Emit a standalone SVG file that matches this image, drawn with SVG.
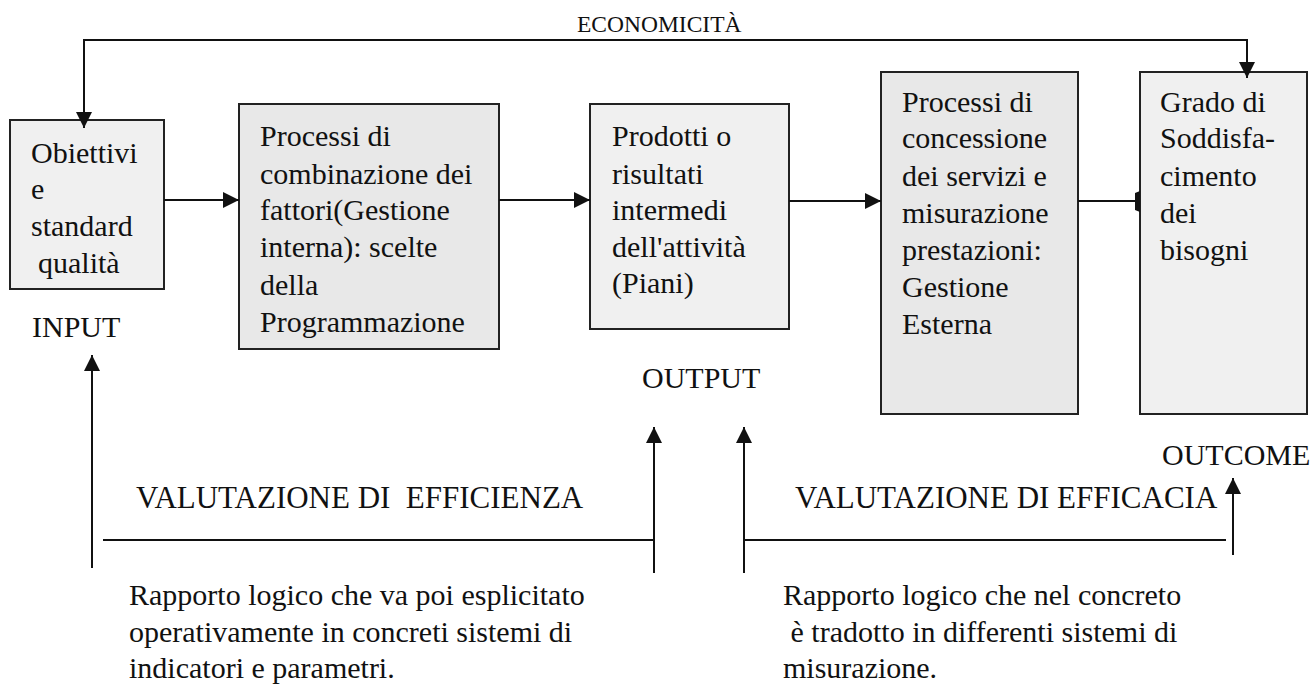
<svg xmlns="http://www.w3.org/2000/svg" width="1311" height="686" viewBox="0 0 1311 686">
<style>
text{font-family:"Liberation Serif","Times New Roman",serif;font-size:30px;fill:#111;white-space:pre}
.box{stroke:#222;stroke-width:2}
.l{fill:#f0f0f0}.d{fill:#e8e8e8}
.c{fill:none;stroke:#111;stroke-width:2}
.a{marker-end:url(#ah)}
</style>
<defs>
<marker id="ah" markerUnits="userSpaceOnUse" markerWidth="16" markerHeight="16" refX="16" refY="8" orient="auto-start-reverse" viewBox="0 0 16 16">
<path d="M0,0 L16,8 L0,16 z" fill="#111"/>
</marker>
</defs>
<rect width="1311" height="686" fill="#fff"/>
<g id="n1"><rect class="box l" x="10" y="120" width="154" height="169"/>
<text x="31" y="163">Obiettivi</text><text x="31" y="199">e</text><text x="31" y="236">standard</text><text x="38" y="273">qualità</text></g>
<g id="n2"><rect class="box d" x="239" y="104" width="260" height="245"/>
<text x="260" y="146">Processi di</text><text x="260" y="184">combinazione dei</text><text x="260" y="220">fattori(Gestione</text><text x="260" y="257">interna): scelte</text><text x="260" y="295">della</text><text x="260" y="332">Programmazione</text></g>
<g id="n3"><rect class="box l" x="590" y="104" width="199" height="225"/>
<text x="612" y="146">Prodotti o</text><text x="612" y="184">risultati</text><text x="612" y="220">intermedi</text><text x="612" y="257">dell'attività</text><text x="612" y="293">(Piani)</text></g>
<g id="n4"><rect class="box d" x="881" y="72" width="197" height="342"/>
<text x="902" y="112">Processi di</text><text x="902" y="148">concessione</text><text x="902" y="186">dei servizi e</text><text x="902" y="223">misurazione</text><text x="902" y="260">prestazioni:</text><text x="902" y="297">Gestione</text><text x="902" y="334">Esterna</text></g>
<g id="n5"><rect class="box l" x="1140" y="72" width="167" height="342"/>
<text x="1160" y="112">Grado di</text><text x="1160" y="148">Soddisfa-</text><text x="1160" y="186">cimento</text><text x="1160" y="223">dei</text><text x="1160" y="260">bisogni</text></g>
<g id="labels">
<text x="577" y="32" style="font-size:23.5px">ECONOMICITÀ</text>
<text x="32" y="337">INPUT</text>
<text x="642" y="388">OUTPUT</text>
<text x="1162" y="465">OUTCOME</text>
<text x="136" y="508" style="font-size:31px">VALUTAZIONE DI  EFFICIENZA</text>
<text x="795" y="508" style="font-size:31px">VALUTAZIONE DI EFFICACIA</text>
<text x="129" y="605">Rapporto logico che va poi esplicitato</text>
<text x="129" y="642">operativamente in concreti sistemi di</text>
<text x="129" y="678">indicatori e parametri.</text>
<text x="783" y="605">Rapporto logico che nel concreto</text>
<text x="783" y="642"> è tradotto in differenti sistemi di</text>
<text x="783" y="678">misurazione.</text>
</g>
<g id="connectors">
<path class="c" d="M84,128 V40 H1247 V78" style="marker-start:url(#ah);marker-end:url(#ah)"/>
<path class="c a" d="M164,200 H239"/>
<path class="c a" d="M499,200 H590"/>
<path class="c a" d="M789,201 H881"/>
<path class="c" d="M1078,201 H1140"/>
<polygon points="1135,193 1140,191 1140,212 1135,210" fill="#111"/>
<path class="c a" d="M92,568 V355"/>
<path class="c" d="M103,540 H654"/>
<path class="c a" d="M654,573 V427"/>
<path class="c a" d="M744,573 V427"/>
<path class="c" d="M744,540 H1226"/>
<path class="c a" d="M1233,555 V478"/>
</g>
</svg>
